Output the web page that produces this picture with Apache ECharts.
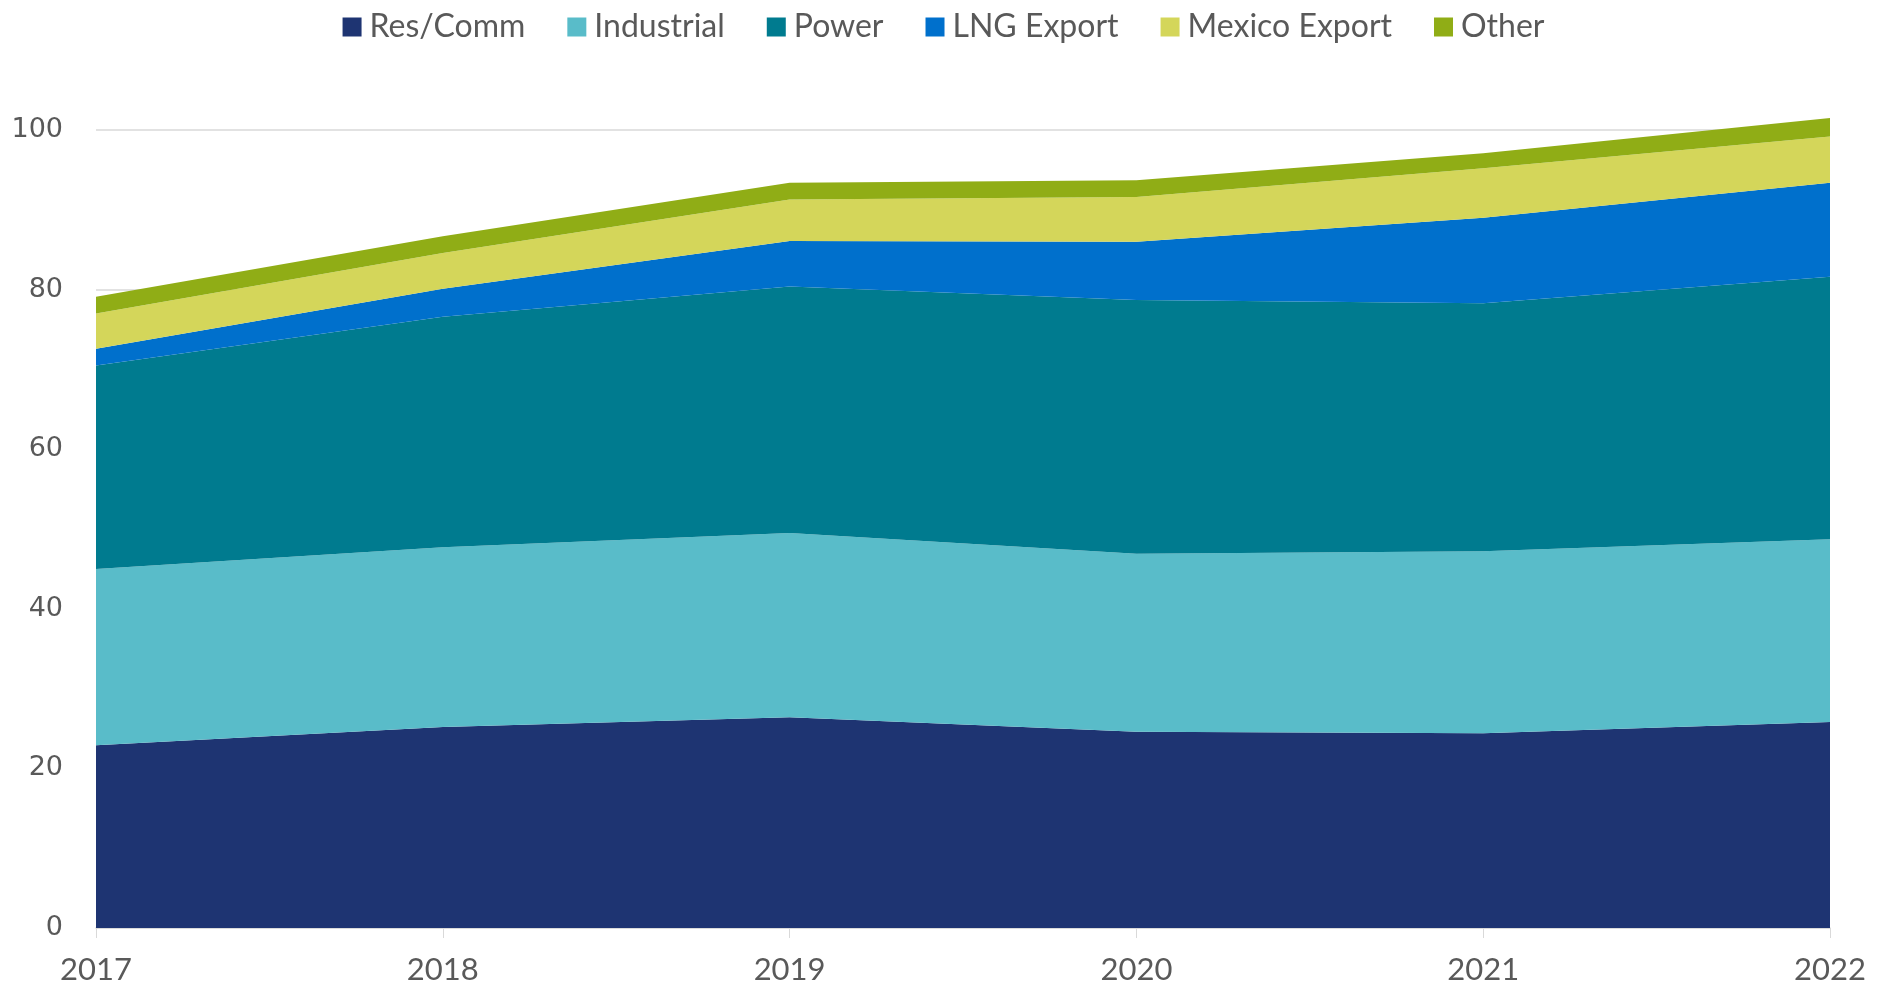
<!DOCTYPE html>
<html>
<head>
<meta charset="utf-8">
<script src="https://cdn.jsdelivr.net/npm/echarts@6/dist/echarts.min.js"></script>
<style>
  html, body { margin: 0; padding: 0; background: #fff; }
  #chart { width: 1887px; height: 991px; }
</style>
</head>
<body>
<div id="chart"></div>
<script>
// data
const years = ['2017', '2018', '2019', '2020', '2021', '2022'];
const resComm = [22.9, 25.2, 26.4, 24.6, 24.4, 25.8];
const industrial = [22.1, 22.5, 23.1, 22.3, 22.8, 22.9];
const power = [25.5, 28.9, 30.9, 31.8, 31.1, 32.9];
const lngExport = [2.1, 3.5, 5.7, 7.3, 10.7, 11.8];
const mexicoExport = [4.4, 4.5, 5.2, 5.6, 6.2, 5.8];
const other = [2.1, 2.1, 2.1, 2.1, 1.9, 2.3];
const yTicks = [0, 20, 40, 60, 80, 100];

const names = ['Res/Comm', 'Industrial', 'Power', 'LNG Export', 'Mexico Export', 'Other'];
const values = [resComm, industrial, power, lngExport, mexicoExport, other];
const colors = ['#1e3472', '#59bcc9', '#007b8f', '#0070cc', '#d4d65a', '#90ad16'];

const myChart = echarts.init(document.getElementById('chart'));
myChart.setOption({
  animation: false,
  color: colors,
  textStyle: { fontFamily: 'Lato, "Open Sans", sans-serif' },
  legend: {
    top: 6,
    left: 'center',
    itemWidth: 19,
    itemHeight: 19,
    itemGap: 42,
    icon: 'rect',
    textStyle: { color: '#595959', fontSize: 32, padding: [0, 0, 0, 3] },
    data: names
  },
  grid: {
    left: 96,
    right: 57,
    top: 130,
    bottom: 63
  },
  xAxis: {
    type: 'category',
    boundaryGap: false,
    data: years,
    axisLine: { lineStyle: { color: '#d9d9d9', width: 1.5 } },
    axisTick: { show: true, length: 10, lineStyle: { color: '#d9d9d9' } },
    axisLabel: { color: '#595959', fontSize: 31, margin: 26 }
  },
  yAxis: {
    type: 'value',
    min: yTicks[0],
    max: yTicks[yTicks.length - 1],
    interval: 20,
    axisLine: { show: false },
    axisTick: { show: false },
    axisLabel: { color: '#595959', fontSize: 27, margin: 33, fontFamily: '"DejaVu Sans", sans-serif' },
    splitLine: { lineStyle: { color: '#d9d9d9', width: 1.5 } }
  },
  series: names.map((n, i) => ({
    name: n,
    type: 'line',
    stack: 'total',
    data: values[i],
    symbol: 'none',
    clip: false,
    lineStyle: { width: 0 },
    areaStyle: { color: colors[i], opacity: 1 }
  }))
});
</script>
</body>
</html>
